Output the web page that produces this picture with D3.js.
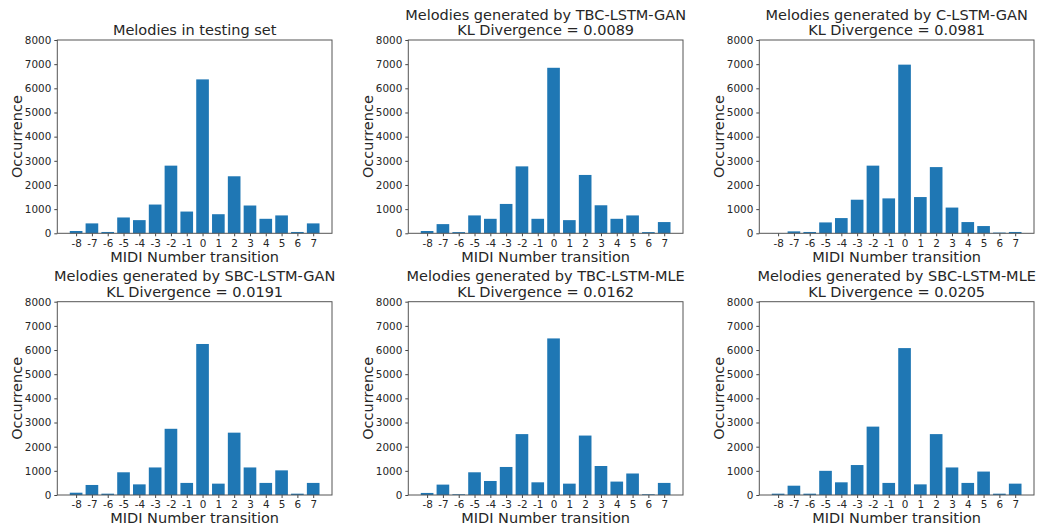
<!DOCTYPE html>
<html>
<head>
<meta charset="utf-8">
<script src="https://cdn.jsdelivr.net/npm/d3@7"></script>
<style>
  body { margin: 0; background: #fff; }
  svg { display: block; font-family: "DejaVu Sans", sans-serif; }
</style>
</head>
<body>
<svg id="chart" width="1042" height="527"></svg>
<script>
// transitions on the x axis
var transitions = [-8, -7, -6, -5, -4, -3, -2, -1, 0, 1, 2, 3, 4, 5, 6, 7];
var yTicks = [0, 1000, 2000, 3000, 4000, 5000, 6000, 7000, 8000];

var testingSet   = [95, 410, 55, 655, 545, 1190, 2800, 900, 6370, 790, 2360, 1150, 600, 740, 55, 410];
var tbcLstmGan   = [95, 380, 50, 740, 600, 1215, 2770, 600, 6850, 545, 2415, 1160, 600, 740, 50, 465];
var cLstmGan     = [5, 80, 55, 450, 630, 1390, 2800, 1445, 6980, 1500, 2740, 1065, 465, 300, 30, 55];
var sbcLstmGan   = [95, 415, 55, 940, 440, 1140, 2740, 500, 6250, 470, 2580, 1140, 500, 1020, 55, 500];
var tbcLstmMle   = [85, 430, 30, 940, 580, 1160, 2520, 525, 6480, 470, 2460, 1200, 555, 890, 30, 500];
var sbcLstmMle   = [55, 385, 55, 1000, 525, 1240, 2830, 500, 6080, 440, 2520, 1140, 500, 970, 55, 470];

var panelTitles = [
  ['Melodies in testing set'],
  ['Melodies generated by TBC-LSTM-GAN', 'KL Divergence = 0.0089'],
  ['Melodies generated by C-LSTM-GAN', 'KL Divergence = 0.0981'],
  ['Melodies generated by SBC-LSTM-GAN', 'KL Divergence = 0.0191'],
  ['Melodies generated by TBC-LSTM-MLE', 'KL Divergence = 0.0162'],
  ['Melodies generated by SBC-LSTM-MLE', 'KL Divergence = 0.0205']
];
var panelSeries = [testingSet, tbcLstmGan, cLstmGan, sbcLstmGan, tbcLstmMle, sbcLstmMle];

var svg = d3.select('#chart');
var colLefts = [57.3, 408.3, 759.3];
var rowTops = [40, 301.7];
var pw = 274.7, ph = 193.3;
var textColor = '#262626';
var barColor = '#1f77b4';

// plain hyphen for negatives, like the original figure
var fmt = function (d) { return String(d); };

panelSeries.forEach(function (values, i) {
  var left = colLefts[i % 3];
  var top = rowTops[Math.floor(i / 3)];

  var g = svg.append('g').attr('transform', 'translate(' + left + ',' + top + ')');

  var x = d3.scaleLinear().domain([-9.19, 8.19]).range([0, pw]);
  var y = d3.scaleLinear().domain([0, 8000]).range([ph, 0]);

  // bars
  g.selectAll('rect.bar')
    .data(values)
    .enter().append('rect')
    .attr('class', 'bar')
    .attr('x', function (d, k) { return x(transitions[k] - 0.4); })
    .attr('width', function (d, k) { return x(transitions[k] + 0.4) - x(transitions[k] - 0.4); })
    .attr('y', function (d) { return y(d); })
    .attr('height', function (d) { return y(0) - y(d); })
    .attr('fill', barColor);

  // axes
  var ax = g.append('g')
    .attr('transform', 'translate(0,' + ph + ')')
    .call(d3.axisBottom(x).tickValues(transitions).tickFormat(fmt).tickSize(3).tickPadding(3).tickSizeOuter(0));
  var ay = g.append('g')
    .call(d3.axisLeft(y).tickValues(yTicks).tickFormat(fmt).tickSize(3).tickPadding(3).tickSizeOuter(0));

  [ax, ay].forEach(function (a) {
    a.select('.domain').remove();
    a.selectAll('line').attr('stroke', '#444');
    a.selectAll('text')
      .attr('fill', textColor)
      .style('font-size', '10.4px')
      .style('font-family', '"DejaVu Sans", sans-serif');
  });

  // frame
  g.append('rect')
    .attr('width', pw)
    .attr('height', ph)
    .attr('fill', 'none')
    .attr('stroke', '#555')
    .attr('stroke-width', 1);

  // title
  var lines = panelTitles[i];
  lines.forEach(function (t, k) {
    g.append('text')
      .attr('x', pw / 2)
      .attr('y', -5 - (lines.length - 1 - k) * 15.3)
      .attr('text-anchor', 'middle')
      .attr('fill', textColor)
      .style('font-size', '14.5px')
      .text(t);
  });

  // axis labels
  g.append('text')
    .attr('x', pw / 2)
    .attr('y', ph + 28.5)
    .attr('text-anchor', 'middle')
    .attr('fill', textColor)
    .style('font-size', '14.5px')
    .text('MIDI Number transition');

  g.append('text')
    .attr('transform', 'translate(' + (i % 3 === 0 ? -35.6 : -35.3) + ',' + (ph / 2) + ') rotate(-90)')
    .attr('text-anchor', 'middle')
    .attr('fill', textColor)
    .style('font-size', '14.5px')
    .text('Occurrence');
});
</script>
</body>
</html>
